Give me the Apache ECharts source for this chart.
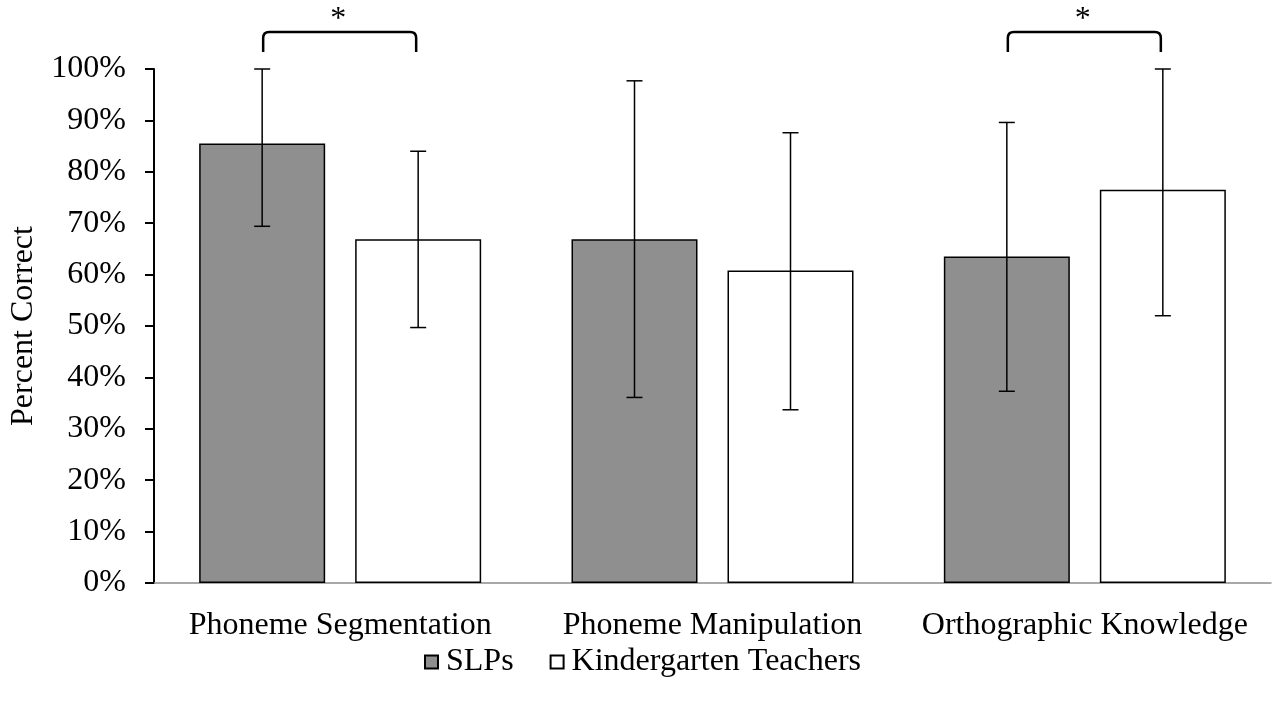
<!DOCTYPE html>
<html>
<head>
<meta charset="utf-8">
<script src="https://cdn.jsdelivr.net/npm/echarts@6/dist/echarts.min.js"></script>
<style>html,body{margin:0;padding:0;background:#fff}#c{width:1273px;height:708px}</style>
</head>
<body>
<div id="c"></div>
<script>
const categories = ['Phoneme Segmentation', 'Phoneme Manipulation', 'Orthographic Knowledge'];
const seriesNames = ['SLPs', 'Kindergarten Teachers'];
const slps = [85.5, 66.9, 63.5];
const teachers = [66.9, 60.8, 76.5];
const slpsLow = [69.4, 36.1, 37.3];
const slpsHigh = [100, 97.7, 89.6];
const teachersLow = [49.7, 33.7, 52.0];
const teachersHigh = [84.0, 87.6, 100];
const yTicks = [0, 10, 20, 30, 40, 50, 60, 70, 80, 90, 100];
const significant = [0, 2];

const FONT = 'Liberation Serif';
const FS = 32;
const BAR_W = 126, GAP = 30;
const OFF = (BAR_W + GAP) / 2;

function errorSeries(name, low, high, sign) {
  return {
    type: 'custom', name: name + ' error', silent: true, z: 5,
    data: low.map((l, i) => [i, l, high[i]]),
    renderItem: function (params, api) {
      const cx = api.coord([api.value(0), 0])[0] + sign * OFF;
      const yl = api.coord([api.value(0), api.value(1)])[1];
      const yh = api.coord([api.value(0), api.value(2)])[1];
      const st = { stroke: '#000', lineWidth: 1.5 };
      const cap = 8;
      return { type: 'group', children: [
        { type: 'line', shape: { x1: cx, y1: yl, x2: cx, y2: yh }, style: st },
        { type: 'line', shape: { x1: cx - cap, y1: yl, x2: cx + cap, y2: yl }, style: st },
        { type: 'line', shape: { x1: cx - cap, y1: yh, x2: cx + cap, y2: yh }, style: st }
      ]};
    }
  };
}

const chart = echarts.init(document.getElementById('c'));
chart.setOption({
  animation: false,
  grid: { left: 151, right: 2, top: 69, bottom: 125, containLabel: false },
  legend: {
    data: seriesNames, left: 419, top: 641,
    itemWidth: 13, itemHeight: 13, itemGap: 36, icon: 'rect',
    textStyle: { fontFamily: FONT, fontSize: FS, color: '#000', padding: [0, 0, 0, 3] }
  },
  xAxis: {
    type: 'category', data: categories,
    axisLine: { lineStyle: { color: '#8c8c8c', width: 1.5 } },
    axisTick: { show: false },
    axisLabel: { fontFamily: FONT, fontSize: FS, color: '#000', margin: 27, interval: 0 }
  },
  yAxis: {
    type: 'value', min: 0, max: 100, interval: 10,
    name: 'Percent Correct', nameLocation: 'middle', nameGap: 114, nameRotate: 90,
    nameTextStyle: { fontFamily: FONT, fontSize: FS, color: '#000' },
    axisLine: { show: true, lineStyle: { color: '#000', width: 2 } },
    axisTick: { show: true, length: 9, lineStyle: { color: '#000', width: 2 } },
    splitLine: { show: false },
    axisLabel: { fontFamily: FONT, fontSize: FS, color: '#000', margin: 28,
      formatter: v => yTicks.includes(v) ? v + '%' : '' }
  },
  series: [
    { name: seriesNames[0], type: 'bar', data: slps, barWidth: BAR_W, barGap: (GAP / BAR_W * 100) + '%',
      itemStyle: { color: '#8f8f8f', borderColor: '#000', borderWidth: 1.5 } },
    { name: seriesNames[1], type: 'bar', data: teachers, barWidth: BAR_W,
      itemStyle: { color: '#fff', borderColor: '#000', borderWidth: 1.5 } },
    errorSeries(seriesNames[0], slpsLow, slpsHigh, -1),
    errorSeries(seriesNames[1], teachersLow, teachersHigh, 1),
    {
      type: 'custom', name: 'significance', silent: true, clip: false, z: 6,
      data: significant.map(i => [i]),
      renderItem: function (params, api) {
        const c = api.coord([api.value(0), 0])[0];
        const top = api.coord([0, 107.2])[1];
        const bot = api.coord([0, 103.3])[1];
        const x1 = c - OFF + 1, x2 = c + OFF - 2, r = 6;
        return { type: 'group', children: [
          { type: 'path', shape: { pathData:
            'M' + x1 + ' ' + bot + ' L' + x1 + ' ' + (top + r) + ' Q' + x1 + ' ' + top + ' ' + (x1 + r) + ' ' + top +
            ' L' + (x2 - r) + ' ' + top + ' Q' + x2 + ' ' + top + ' ' + x2 + ' ' + (top + r) + ' L' + x2 + ' ' + bot },
            style: { stroke: '#000', lineWidth: 2.5, fill: null } },
          { type: 'text', x: c - 2, y: top - 12, style: { text: '*', fontFamily: FONT, fontSize: FS,
            fill: '#000', align: 'center', verticalAlign: 'middle' } }
        ]};
      }
    }
  ]
});
</script>
</body>
</html>
